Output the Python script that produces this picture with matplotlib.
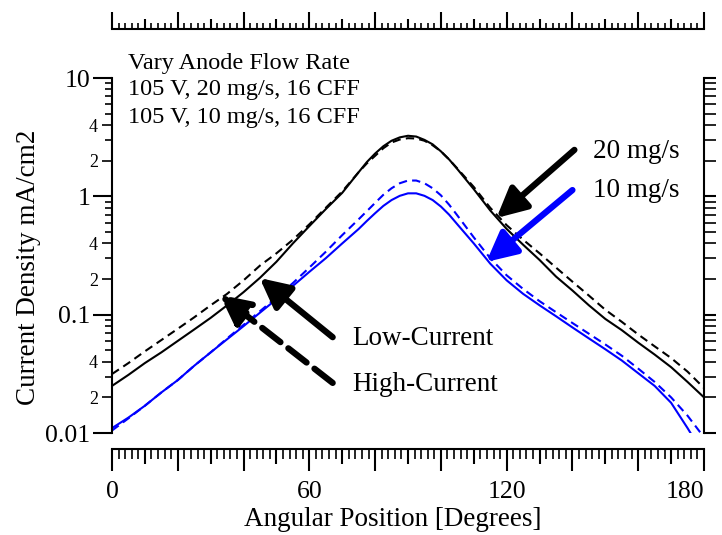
import math
import matplotlib.pyplot as plt
from matplotlib.ticker import MultipleLocator, LogLocator, FuncFormatter

plt.rcParams['font.family'] = ['Liberation Serif', 'DejaVu Serif']

# angular position in degrees
angle = [0, 5, 10, 15, 20, 25, 30, 35, 40, 45, 50, 55, 60, 65, 70, 75, 77.5, 80, 82.5, 85, 87.5, 90,
         92.5, 95, 97.5, 100, 102.5, 105, 110, 115, 120, 125, 130, 135, 140, 145, 150, 155, 160,
         165, 170, 175, 180]

# current density mA/cm2
low_20 = [0.025, 0.031, 0.039, 0.048, 0.060, 0.075, 0.094, 0.12, 0.155, 0.205, 0.28, 0.40, 0.56,
          0.78, 1.07, 1.6, 1.95, 2.3, 2.65, 2.95, 3.15, 3.25, 3.2, 3.0, 2.75, 2.4, 2.05, 1.7,
          1.15, 0.76, 0.53, 0.39, 0.29, 0.21, 0.16, 0.12, 0.092, 0.074, 0.058, 0.046, 0.036,
          0.027, 0.020]
high_20 = [0.0315, 0.039, 0.049, 0.061, 0.076, 0.095, 0.12, 0.15, 0.195, 0.26, 0.33, 0.43, 0.58,
           0.80, 1.1, 1.6, 1.9, 2.2, 2.55, 2.85, 3.02, 3.1, 3.08, 2.95, 2.7, 2.4, 2.05, 1.72,
           1.2, 0.80, 0.57, 0.43, 0.33, 0.25, 0.19, 0.145, 0.11, 0.087, 0.068, 0.054, 0.043,
           0.033, 0.024]
low_10 = [0.011, 0.0135, 0.017, 0.022, 0.028, 0.037, 0.048, 0.062, 0.08, 0.104, 0.135, 0.175, 0.23,
          0.30, 0.40, 0.53, 0.62, 0.72, 0.83, 0.93, 1.01, 1.06, 1.06, 1.01, 0.93, 0.82, 0.70, 0.58,
          0.40, 0.27, 0.195, 0.15, 0.12, 0.097, 0.078, 0.063, 0.051, 0.041, 0.032, 0.025, 0.018,
          0.011, 0.0065]
high_10 = [0.0105, 0.0133, 0.017, 0.022, 0.028, 0.037, 0.048, 0.063, 0.082, 0.107, 0.14, 0.185, 0.25,
           0.34, 0.47, 0.64, 0.75, 0.88, 1.03, 1.17, 1.29, 1.36, 1.36, 1.29, 1.17, 1.02, 0.85, 0.69,
           0.45, 0.30, 0.215, 0.165, 0.13, 0.105, 0.085, 0.069, 0.056, 0.045, 0.035, 0.027, 0.020,
           0.014, 0.0092]

header = ['Vary Anode Flow Rate', '105 V, 20 mg/s, 16 CFF', '105 V, 10 mg/s, 16 CFF']

W, H = 722, 535
px = 0.72  # points per pixel at 100 dpi

fig = plt.figure(figsize=(W / 100, H / 100), dpi=100)
ax = fig.add_axes([112 / W, 1 - 433 / H, (704 - 112) / W, (433 - 78) / H])

dash = (4, 2.5)
ax.plot(angle, high_20, color='black', lw=1.5, dashes=dash)
ax.plot(angle, low_20, color='black', lw=1.5)
ax.plot(angle, high_10, color='blue', lw=1.5, dashes=dash)
ax.plot(angle, low_10, color='blue', lw=1.5)

ax.set_yscale('log')
ax.set_xlim(0, 180)
ax.set_ylim(0.01, 10)

# bottom and top rulers sit apart from the plot box
ax.spines['bottom'].set_position(('outward', 16 * px))
ax.spines['top'].set_position(('outward', 49 * px))
for s in ax.spines.values():
    s.set_linewidth(1.5)

ax.xaxis.set_major_locator(MultipleLocator(10))
ax.xaxis.set_minor_locator(MultipleLocator(2))
ax.xaxis.set_major_formatter(FuncFormatter(lambda v, p: '%d' % v if round(v) % 60 == 0 else ''))

ax.yaxis.set_major_locator(LogLocator(base=10))
ax.yaxis.set_minor_locator(LogLocator(base=10, subs=range(2, 10)))


def minor_label(v, p):
    m = v / 10 ** math.floor(math.log10(v) + 1e-9)
    return '%d' % round(m) if round(m) in (2, 4) else ''


ax.yaxis.set_major_formatter(FuncFormatter(lambda v, p: '%g' % v))
ax.yaxis.set_minor_formatter(FuncFormatter(minor_label))

ax.tick_params(axis='x', which='major', direction='out', top=True, length=22 * px, width=1.5,
               labelsize=18.5, pad=7)
ax.tick_params(axis='x', which='minor', direction='out', top=True, length=10 * px, width=1.2)
ax.tick_params(axis='y', which='major', direction='out', right=True, length=19 * px, width=1.5,
               labelsize=18.5, pad=2)
ax.tick_params(axis='y', which='minor', direction='out', right=True, length=10 * px, width=1.2,
               labelsize=13, pad=3)

ax.set_xlabel('Angular Position [Degrees]', fontsize=19.5)
ax.xaxis.set_label_coords((393 - 112) / 592, (433 - 507) / 355)
ax.set_ylabel('Current Density mA/cm2', fontsize=19.5)
ax.yaxis.set_label_coords((41 - 112) / 592, (433 - 267) / 355)

# arrows and labels
head = '-|>,head_length=0.9,head_width=0.45'
ax.annotate('', xy=(116.9, 0.656), xytext=(140.6, 2.47),
            arrowprops=dict(arrowstyle=head, mutation_scale=20, lw=4.5, color='black',
                            shrinkA=0, shrinkB=0))
ax.annotate('', xy=(113.8, 0.279), xytext=(140.0, 1.13),
            arrowprops=dict(arrowstyle=head, mutation_scale=20, lw=4.5, color='blue',
                            shrinkA=0, shrinkB=0))
ax.annotate('', xy=(44.9, 0.204), xytext=(67.1, 0.0645),
            arrowprops=dict(arrowstyle=head, mutation_scale=20, lw=4.5, color='black',
                            shrinkA=0, shrinkB=0))
ax.annotate('', xy=(32.8, 0.147), xytext=(67.1, 0.0265),
            arrowprops=dict(arrowstyle=head, mutation_scale=20, lw=4.5, color='black', ls='--',
                            shrinkA=0, shrinkB=0))
ax.text(146.3, 2.37, '20 mg/s', fontsize=19.5, va='center', ha='left')
ax.text(146.3, 1.13, '10 mg/s', fontsize=19.5, va='center', ha='left')
ax.text(73.0, 0.0635, 'Low-Current', fontsize=19.5, va='center', ha='left')
ax.text(73.0, 0.0255, 'High-Current', fontsize=19.5, va='center', ha='left')

for i, line in enumerate(header):
    fig.text(128 / W, 1 - (63 + 27 * i) / H, line, fontsize=17.5, va='center', ha='left')

fig.canvas.draw()

# per-tick lengths: the rulers have long ticks every 20 deg, medium every 10
locs = ax.xaxis.get_majorticklocs()
for v, t in zip(locs, ax.xaxis.get_major_ticks(len(locs))):
    if round(v) % 20 == 0:
        t.tick1line.set_markersize(22 * px)
        t.tick2line.set_markersize(17 * px)
    else:
        t.tick1line.set_markersize(15 * px)
        t.tick2line.set_markersize(10 * px)
    if round(v) == 180:
        t.label1.set_horizontalalignment('right')
        t.label1.set_x(180.8)
locs = ax.xaxis.get_minorticklocs()
for v, t in zip(locs, ax.xaxis.get_minor_ticks(len(locs))):
    t.tick1line.set_markersize(10 * px)
    t.tick2line.set_markersize(6 * px)

locs = ax.yaxis.get_majorticklocs()
for v, t in zip(locs, ax.yaxis.get_major_ticks(len(locs))):
    t.tick2line.set_markersize(12 * px)
locs = ax.yaxis.get_minorticklocs()
for v, t in zip(locs, ax.yaxis.get_minor_ticks(len(locs))):
    t.tick1line.set_markersize((10 if minor_label(v, None) else 7) * px)
    t.tick2line.set_markersize(12 * px)

fig.savefig('out.png', dpi=100)
